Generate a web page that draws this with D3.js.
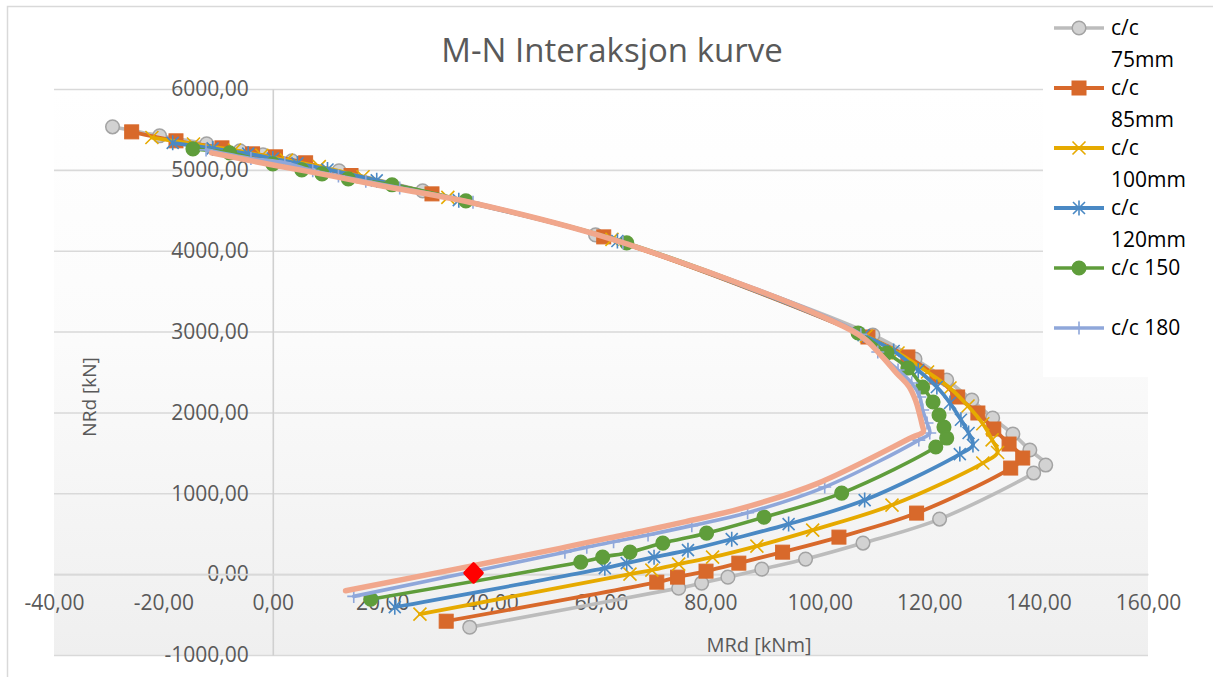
<!DOCTYPE html>
<html>
<head>
<meta charset="utf-8">
<script src="https://cdn.jsdelivr.net/npm/d3@7"></script>
<style>
  body { margin: 0; background: #fff; }
  svg { display: block; font-family: "Open Sans", sans-serif; }
</style>
</head>
<body>
<div id="chart"></div>
<script>
// MRd [kNm] / NRd [kN], one pair of arrays per series
const mrd75 = [-29.3, -20.7, -12.1, -6.0, -1.8, 3.5, 12.1, 27.4, 59.0, 109.7, 117.4, 123.2, 127.8, 131.6, 135.3, 138.4, 141.3, 139.1, 121.9, 107.9, 97.4, 89.4, 83.2, 78.4, 74.2, 36.0];
const nrd75 = [5532, 5421, 5322, 5235, 5186, 5111, 4988, 4740, 4196, 2958, 2661, 2401, 2153, 1931, 1733, 1535, 1349, 1250, 681, 384, 186, 62, -37, -111, -173, -656];

const mrd85 = [-25.8, -17.7, -9.3, -3.7, 0.5, 6.0, 14.3, 29.1, 60.5, 108.8, 116.1, 121.4, 125.2, 128.9, 131.8, 134.6, 137.1, 134.9, 117.7, 103.5, 93.2, 85.2, 79.2, 74.0, 70.2, 31.7];
const nrd85 = [5470, 5359, 5272, 5198, 5161, 5087, 4930, 4703, 4171, 2933, 2686, 2438, 2191, 1993, 1795, 1609, 1436, 1312, 755, 458, 272, 136, 37, -37, -99, -582];

const mrd100 = [-22.1, -14.5, -7.0, -2.0, 2.5, 8.5, 16.5, 32.0, 62.0, 108.5, 114.3, 119.7, 123.8, 127.1, 129.8, 131.5, 132.5, 129.8, 113.2, 98.7, 88.5, 80.4, 74.2, 69.3, 65.3, 26.9];
const nrd100 = [5400, 5320, 5245, 5180, 5120, 5040, 4915, 4660, 4140, 2945, 2735, 2500, 2302, 2079, 1860, 1660, 1505, 1374, 854, 545, 347, 210, 124, 50, 0, -495];

const mrd120 = [-18.3, -11.0, -4.5, 0.0, 4.5, 10.0, 19.0, 34.0, 63.0, 108.0, 113.5, 118.0, 121.4, 123.8, 125.8, 127.2, 128.0, 125.6, 108.2, 94.3, 83.9, 75.9, 69.7, 64.7, 60.7, 22.3];
const nrd120 = [5334, 5265, 5200, 5140, 5080, 5005, 4870, 4625, 4120, 2955, 2760, 2520, 2314, 2116, 1910, 1745, 1597, 1485, 916, 619, 433, 297, 210, 136, 74, -408];

const mrd150 = [-14.6, -7.9, 0.0, 5.3, 9.0, 13.8, 21.8, 35.3, 64.7, 107.0, 112.3, 116.1, 118.8, 120.7, 121.8, 122.7, 123.2, 121.2, 104.0, 89.8, 79.3, 71.3, 65.3, 60.3, 56.3, 17.9];
const nrd150 = [5260, 5210, 5074, 5000, 4950, 4889, 4815, 4616, 4097, 2983, 2735, 2549, 2314, 2129, 1968, 1819, 1683, 1572, 1002, 705, 507, 384, 272, 210, 149, -310];

const mrd180 = [-12.2, -4.0, 2.2, 7.3, 12.0, 17.0, 23.2, 36.6, 64.0, 107.5, 110.6, 114.3, 116.8, 118.3, 118.8, 119.6, 120.1, 118.1, 100.9, 86.8, 76.6, 68.6, 62.3, 57.4, 53.4, 14.8];
const nrd180 = [5247, 5140, 5087, 4990, 4925, 4860, 4777, 4600, 4100, 2965, 2747, 2525, 2364, 2190, 2030, 1869, 1745, 1658, 1077, 760, 600, 485, 400, 334, 272, -275];

// seventh curve (legend entry cut off in the original)
const mrdExtra = [-11.2, 0.0, 10.0, 20.0, 36.0, 64.0, 107.0, 111.0, 114.0, 116.3, 117.5, 118.2, 118.7, 118.9, 116.8, 99.5, 85.5, 75.5, 67.5, 61.3, 56.5, 52.5, 13.3];
const nrdExtra = [5210, 5060, 4935, 4800, 4600, 4100, 2965, 2720, 2490, 2320, 2150, 1990, 1850, 1760, 1690, 1120, 810, 650, 530, 445, 378, 318, -205];

// design load point
const mrdLoad = [36.7];
const nrdLoad = [15];

const seriesNames = ["c/c 75mm", "c/c 85mm", "c/c 100mm", "c/c 120mm", "c/c 150", "c/c 180"];
const xTicks = [-40, -20, 0, 20, 40, 60, 80, 100, 120, 140, 160];
const yTicks = [-1000, 0, 1000, 2000, 3000, 4000, 5000, 6000];

const zip = (m, n) => m.map((v, i) => ({m: v, n: n[i]}));

const series = [
  {name: seriesNames[0], data: zip(mrd75, nrd75), color: "#bcbcbc", width: 3.6, marker: "circle", fill: "#d2d2d2", mstroke: "#a3a3a3"},
  {name: seriesNames[1], data: zip(mrd85, nrd85), color: "#d8692b", width: 3.8, marker: "square", fill: "#d8692b", mstroke: "#d8692b"},
  {name: seriesNames[2], data: zip(mrd100, nrd100), color: "#e6aa00", width: 3.8, marker: "x", fill: "none", mstroke: "#e6aa00"},
  {name: seriesNames[3], data: zip(mrd120, nrd120), color: "#4a89c4", width: 3.8, marker: "asterisk", fill: "none", mstroke: "#4a89c4"},
  {name: seriesNames[4], data: zip(mrd150, nrd150), color: "#5f9d3b", width: 3.6, marker: "circle", fill: "#5f9d3b", mstroke: "#5f9d3b"},
  {name: seriesNames[5], data: zip(mrd180, nrd180), color: "#8fa7da", width: 3.6, marker: "plus", fill: "none", mstroke: "#8fa7da"},
  {name: null, data: zip(mrdExtra, nrdExtra), color: "#f1a78c", width: 5.5, marker: null}
];

const width = 1213, height = 677;
const plot = {left: 54, right: 1148, top: 89, bottom: 655};

const x = d3.scaleLinear().domain([-40, 160]).range([plot.left, plot.right]);
const y = d3.scaleLinear().domain([-1000, 6000]).range([plot.bottom, plot.top]);

const locale = d3.formatLocale({decimal: ",", thousands: "", grouping: [3], currency: ["", ""], minus: "-"});
const fmt = locale.format(".2f");

const svg = d3.select("#chart").append("svg")
    .attr("width", width)
    .attr("height", height);

const grad = svg.append("defs").append("linearGradient")
    .attr("id", "plotbg")
    .attr("x1", 0).attr("y1", 0).attr("x2", 0).attr("y2", 1);
grad.append("stop").attr("offset", "0%").attr("stop-color", "#ffffff");
grad.append("stop").attr("offset", "45%").attr("stop-color", "#fbfbfb");
grad.append("stop").attr("offset", "100%").attr("stop-color", "#efefef");

// chart border
svg.append("rect")
    .attr("x", 7.5).attr("y", 6.5)
    .attr("width", width + 20).attr("height", height + 20)
    .attr("fill", "#fff")
    .attr("stroke", "#d9d9d9")
    .attr("stroke-width", 1.5);

// plot area
svg.append("rect")
    .attr("x", plot.left).attr("y", plot.top)
    .attr("width", plot.right - plot.left).attr("height", plot.bottom - plot.top)
    .attr("fill", "url(#plotbg)");

// horizontal gridlines
svg.append("g")
    .attr("transform", `translate(${plot.left},0)`)
    .call(d3.axisLeft(y).tickValues(yTicks).tickSize(-(plot.right - plot.left)).tickFormat(""))
    .call(g => g.select(".domain").remove())
    .call(g => g.selectAll("line").attr("stroke", "#d9d9d9").attr("stroke-width", 1.6));

// vertical axis at M = 0 with labels
svg.append("g")
    .attr("transform", `translate(${x(0)},0)`)
    .call(d3.axisLeft(y).tickValues(yTicks).tickSize(0).tickSizeOuter(0).tickPadding(24).tickFormat(fmt))
    .call(g => g.select(".domain").attr("stroke", "#d0d0d0").attr("stroke-width", 1.6))
    .call(g => g.selectAll("text")
        .attr("font-family", "Open Sans, sans-serif")
        .attr("font-size", 21)
        .attr("fill", "#595959"));

// horizontal axis at N = 0 with labels
svg.append("g")
    .attr("transform", `translate(0,${y(0)})`)
    .call(d3.axisBottom(x).tickValues(xTicks).tickSize(0).tickSizeOuter(0).tickPadding(21).tickFormat(fmt))
    .call(g => g.select(".domain").attr("stroke", "#d9d9d9").attr("stroke-width", 1.6))
    .call(g => g.selectAll("text")
        .attr("font-family", "Open Sans, sans-serif")
        .attr("font-size", 21)
        .attr("fill", "#595959"));

// titles
svg.append("text")
    .attr("x", 612).attr("y", 50)
    .attr("dy", "0.35em")
    .attr("text-anchor", "middle")
    .attr("font-size", 33)
    .attr("fill", "#595959")
    .text("M-N Interaksjon kurve");

svg.append("text")
    .attr("x", 759).attr("y", 645)
    .attr("dy", "0.35em")
    .attr("text-anchor", "middle")
    .attr("font-size", 20)
    .attr("fill", "#595959")
    .text("MRd [kNm]");

svg.append("text")
    .attr("transform", "translate(89,397) rotate(-90)")
    .attr("dy", "0.35em")
    .attr("text-anchor", "middle")
    .attr("font-size", 19)
    .attr("fill", "#595959")
    .text("NRd [kN]");

// marker drawing
function drawMarker(g, type, s) {
  if (type === "circle") {
    g.append("circle").attr("r", 6.8).attr("fill", s.fill).attr("stroke", s.mstroke).attr("stroke-width", 1.5);
  } else if (type === "square") {
    g.append("rect").attr("x", -7).attr("y", -7).attr("width", 14).attr("height", 14)
      .attr("fill", s.fill).attr("stroke", s.mstroke).attr("stroke-width", 1);
  } else if (type === "x") {
    g.append("path").attr("d", "M-6.5,-6.5L6.5,6.5M-6.5,6.5L6.5,-6.5")
      .attr("stroke", s.mstroke).attr("stroke-width", 1.6).attr("fill", "none");
  } else if (type === "asterisk") {
    g.append("path").attr("d", "M-6,-6L6,6M-6,6L6,-6M0,-7.5V7.5")
      .attr("stroke", s.mstroke).attr("stroke-width", 1.6).attr("fill", "none");
  } else if (type === "plus") {
    g.append("path").attr("d", "M0,-6.5V6.5M-6.5,0H6.5")
      .attr("stroke", s.mstroke).attr("stroke-width", 1.6).attr("fill", "none");
  }
}

const line = d3.line()
    .x(d => x(d.m))
    .y(d => y(d.n))
    .curve(d3.curveCatmullRom.alpha(0.5));

series.forEach(s => {
  const g = svg.append("g");
  g.append("path")
      .datum(s.data)
      .attr("d", line)
      .attr("fill", "none")
      .attr("stroke", s.color)
      .attr("stroke-width", s.width)
      .attr("stroke-linejoin", "round")
      .attr("stroke-linecap", "round");
  if (s.marker) {
    g.selectAll("g.mk")
      .data(s.data)
      .join("g")
        .attr("class", "mk")
        .attr("transform", d => `translate(${x(d.m)},${y(d.n)})`)
        .each(function() { drawMarker(d3.select(this), s.marker, s); });
  }
});

// load point
svg.append("g").selectAll("path")
  .data(zip(mrdLoad, nrdLoad))
  .join("path")
    .attr("transform", d => `translate(${x(d.m)},${y(d.n)})`)
    .attr("d", "M0,-9L8.5,0L0,9L-8.5,0Z")
    .attr("fill", "#ff0000")
    .attr("stroke", "#ff0000")
    .attr("stroke-width", 3.5)
    .attr("stroke-linejoin", "round");

// legend
const legend = svg.append("g");
legend.append("rect")
    .attr("x", 1043).attr("y", 8)
    .attr("width", 180).attr("height", 369)
    .attr("fill", "#fff");

series.filter(s => s.name).forEach((s, i) => {
  const ly = 28 + i * 60;
  const g = legend.append("g");
  g.append("line")
      .attr("x1", 1054).attr("x2", 1104)
      .attr("y1", ly).attr("y2", ly)
      .attr("stroke", s.color)
      .attr("stroke-width", s.width);
  drawMarker(g.append("g").attr("transform", `translate(1079,${ly})`), s.marker, s);
  const words = s.name.split(" ");
  const lines = s.name.length > 7 ? [words[0], words.slice(1).join(" ")] : [s.name];
  g.append("text")
      .attr("font-size", 21)
      .attr("fill", "#000")
    .selectAll("tspan")
    .data(lines)
    .join("tspan")
      .attr("x", 1111)
      .attr("y", (d, j) => ly + j * 32)
      .attr("dy", "0.35em")
      .text(d => d);
});
</script>
</body>
</html>
